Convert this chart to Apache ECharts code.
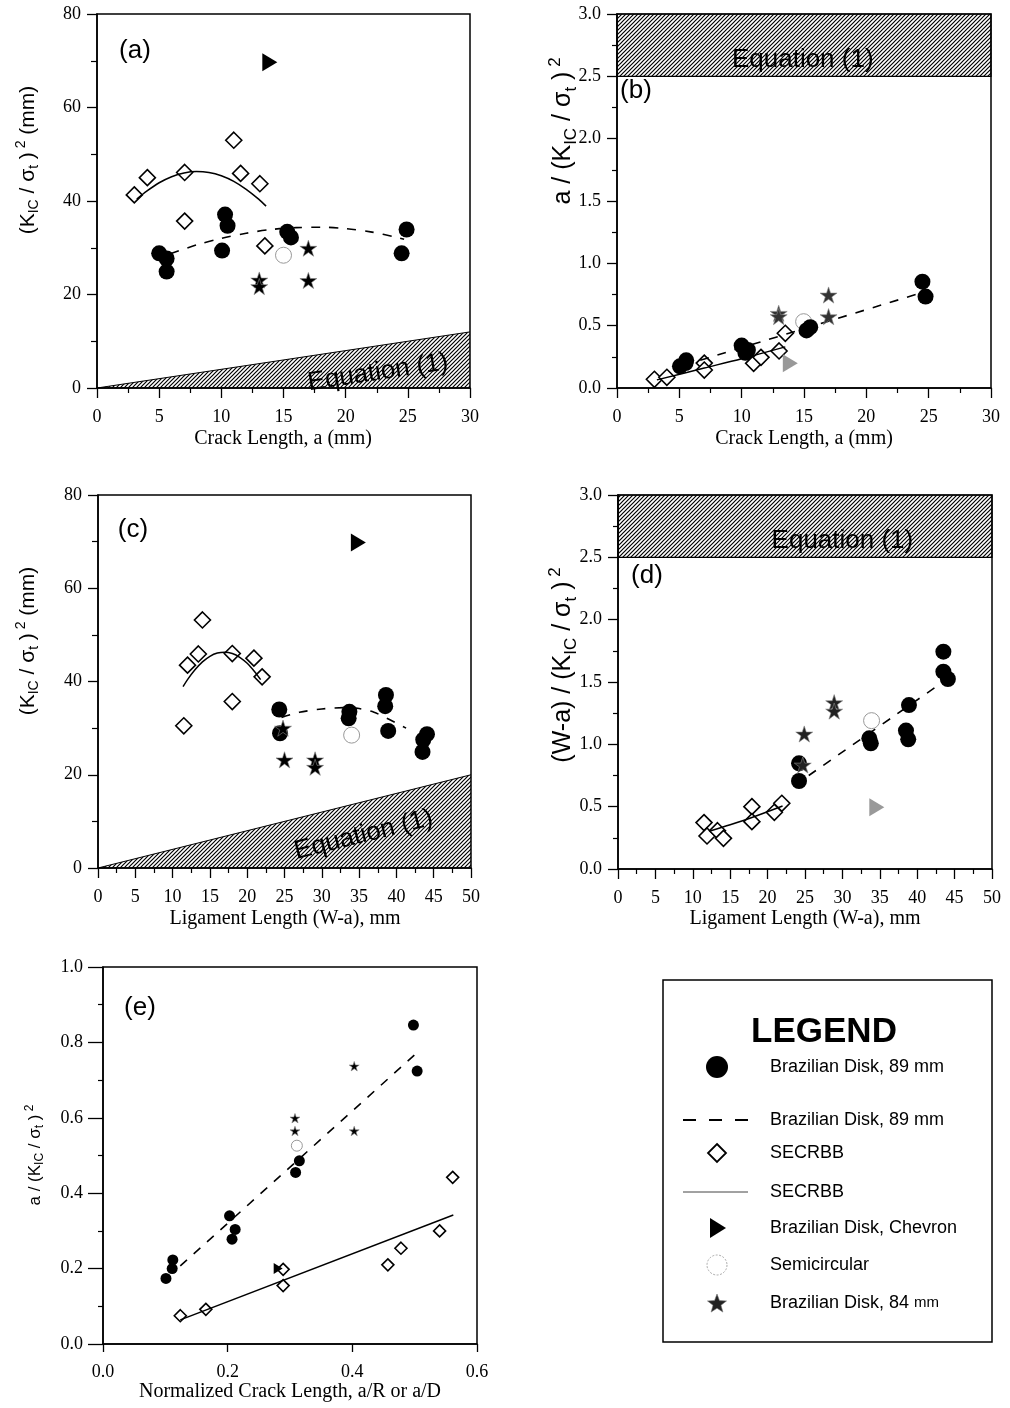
<!DOCTYPE html>
<html>
<head>
<meta charset="utf-8">
<script src="https://cdn.jsdelivr.net/npm/echarts@6/dist/echarts.min.js"></script>
<style>
  html, body { margin: 0; padding: 0; background: #fff; }
  #chart { width: 1010px; height: 1408px; }
</style>
</head>
<body>
<div id="chart"></div>
<script>
// ---------- Panel (a): (K_IC / sigma_t)^2 vs crack length a (mm) ----------
const aDisk89   = [[5.0,28.8],[5.6,27.7],[5.6,24.9],[10.3,37.1],[10.5,34.7],[10.06,29.4],[15.3,33.4],[15.6,32.2],[24.9,33.9],[24.5,28.8]];
const aSecrbb   = [[3.0,41.3],[4.05,45.0],[7.05,46.1],[7.05,35.7],[11.0,53.0],[11.55,45.9],[13.1,43.7],[13.5,30.4]];
const aChevron  = [[13.9,69.7]];
const aSemi     = [[15.0,28.4]];
const aDisk84   = [[13.05,23.1],[13.05,21.7],[17.0,29.9],[17.0,23.0]];
const aDiskFit  = [[5.9,28.7],[8,30.6],[10,32.0],[12,33.1],[14,33.9],[16,34.3],[18,34.4],[20,34.1],[22,33.4],[24,32.3],[24.7,31.8]];
const aSecFit   = [[3.2,40.4],[4,42.1],[5,43.9],[6,45.2],[7,46.0],[8,46.3],[9,46.1],[10,45.4],[11,44.2],[12,42.5],[13,40.4],[13.6,38.9]];
const aEquation = [[0,0],[30,12]];

// ---------- Panel (b): a / (K_IC / sigma_t)^2 vs crack length ----------
const bDisk89   = [[5.05,0.174],[5.5,0.200],[5.55,0.222],[10.0,0.340],[10.3,0.282],[10.5,0.305],[15.2,0.462],[15.5,0.488],[24.5,0.853],[24.75,0.733]];
const bSecrbb   = [[3.0,0.070],[4.0,0.086],[7.0,0.200],[7.0,0.144],[10.96,0.198],[11.55,0.246],[13.0,0.297],[13.5,0.439]];
const bChevron  = [[13.9,0.198]];
const bSemi     = [[14.97,0.532]];
const bDisk84   = [[12.97,0.599],[12.97,0.573],[16.97,0.746],[16.97,0.572]];
const bDiskFit  = [[5.3,0.18],[24.3,0.76]];
const bSecFit   = [[3.2,0.065],[7,0.16],[10,0.235],[13.5,0.33]];
const bEquation = [2.5, 3.0];

// ---------- Panel (c): (K_IC / sigma_t)^2 vs ligament length (W-a) ----------
const cDisk89   = [[24.3,34.0],[24.4,28.9],[33.7,33.5],[33.6,32.1],[38.6,37.1],[38.5,34.7],[38.9,29.4],[44.1,28.7],[43.6,27.5],[43.5,24.9]];
const cSecrbb   = [[11.5,30.5],[12.0,43.5],[13.45,45.9],[14.0,53.2],[18.0,46.0],[18.0,35.7],[20.9,45.0],[22.0,41.0]];
const cChevron  = [[34.9,69.8]];
const cSemi     = [[34.0,28.5]];
const cDisk84   = [[24.8,30.0],[25.0,23.2],[29.1,23.2],[29.1,21.6]];
const cDiskFit  = [[24.6,32.3],[27,33.4],[30,34.1],[33,34.4],[35,34.2],[37,33.4],[39,31.9],[41.3,30.0]];
const cSecFit   = [[11.4,38.9],[12,40.4],[13,42.5],[14,44.2],[15,45.4],[16,46.1],[17,46.3],[18,46.0],[19,45.2],[20,43.9],[21,42.1],[21.8,40.4]];
const cEquation = [[0,0],[50,20]];

// ---------- Panel (d): (W-a) / (K_IC / sigma_t)^2 vs ligament length ----------
const dDisk89   = [[24.2,0.848],[24.2,0.706],[33.6,1.048],[33.8,1.008],[38.9,1.315],[38.5,1.110],[38.8,1.040],[43.5,1.743],[43.5,1.583],[44.1,1.524]];
const dSecrbb   = [[11.5,0.372],[11.9,0.265],[13.3,0.307],[14.1,0.246],[17.9,0.500],[17.9,0.380],[20.9,0.455],[21.9,0.527]];
const dChevron  = [[34.6,0.495]];
const dSemi     = [[33.9,1.19]];
const dDisk84   = [[24.9,1.083],[28.9,1.334],[28.9,1.267],[24.7,0.834]];
const dDiskFit  = [[25.5,0.75],[43.2,1.49]];
const dSecFit   = [[12.3,0.305],[15,0.355],[18,0.415],[22,0.505]];
const dEquation = [2.5, 3.0];

// ---------- Panel (e): a / (K_IC / sigma_t)^2 vs normalized crack length ----------
const eDisk89   = [[0.101,0.174],[0.111,0.200],[0.112,0.223],[0.203,0.340],[0.212,0.304],[0.207,0.278],[0.309,0.455],[0.315,0.486],[0.498,0.846],[0.504,0.724]];
const eSecrbb   = [[0.124,0.075],[0.165,0.092],[0.289,0.198],[0.289,0.155],[0.457,0.210],[0.478,0.254],[0.540,0.300],[0.561,0.442]];
const eChevron  = [[0.281,0.200]];
const eSemi     = [[0.311,0.526]];
const eDisk84   = [[0.308,0.599],[0.308,0.565],[0.403,0.737],[0.403,0.565]];
const eDiskFit  = [[0.124,0.207],[0.504,0.773]];
const eSecFit   = [[0.124,0.064],[0.562,0.342]];

// Axis ranges: [min, max, interval, decimals]
const xCrack    = [0, 30, 5, 0];
const xLigament = [0, 50, 5, 0];
const xNorm     = [0, 0.6, 0.2, 1];
const yMm       = [0, 80, 20, 0];
const yRatio    = [0, 3, 0.5, 1];
const yNorm     = [0, 1, 0.2, 1];

// Texts
const panelTags = ['(a)', '(b)', '(c)', '(d)', '(e)'];
const xTitles = ['Crack Length, a (mm)', 'Crack Length, a (mm)', 'Ligament Length (W-a), mm', 'Ligament Length (W-a), mm', 'Normalized Crack Length, a/R or a/D'];
const equationText = 'Equation (1)';
const legendTitle = 'LEGEND';
const legendLabels = ['Brazilian Disk, 89 mm', 'Brazilian Disk, 89 mm', 'SECRBB', 'SECRBB', 'Brazilian Disk, Chevron', 'Semicircular', 'Brazilian Disk, 84'];

const SERIF = '"Liberation Serif", "Times New Roman", serif';
const SANS = '"Liberation Sans", Arial, sans-serif';

// Diagonal hatching used for the Equation (1) regions
function hatchPattern() {
  const c = document.createElement('canvas');
  c.width = 4; c.height = 4;
  const g = c.getContext('2d');
  g.strokeStyle = '#000';
  g.lineWidth = 1.2;
  g.beginPath();
  g.moveTo(0, 4); g.lineTo(4, 0);
  g.moveTo(-1, 1); g.lineTo(1, -1);
  g.moveTo(3, 5); g.lineTo(5, 3);
  g.stroke();
  return { image: c, repeat: 'repeat' };
}
const HATCH = hatchPattern();

const STAR = 'path://M50 0 L61.2 34.5 L97.6 34.5 L68.2 55.9 L79.4 90.5 L50 69.1 L20.6 90.5 L31.8 55.9 L2.4 34.5 L38.8 34.5 Z';
const TRI_RIGHT = 'path://M0 0 L10 6 L0 12 Z';

const grids = [
  { left: 97,  top: 14,  width: 373, height: 374 },
  { left: 617, top: 14,  width: 374, height: 374 },
  { left: 98,  top: 495, width: 373, height: 373 },
  { left: 618, top: 495, width: 374, height: 374 },
  { left: 103, top: 967, width: 374, height: 377 }
].map(g => Object.assign({ show: true, borderColor: '#000', borderWidth: 1.5, backgroundColor: 'transparent' }, g));

function xAxis(gi, r, o) {
  return {
    type: 'value', gridIndex: gi, min: r[0], max: r[1], interval: r[2],
    axisLine: { show: true, onZero: false, lineStyle: { color: '#000', width: 1.5 } },
    axisTick: { show: true, inside: false, length: o.tick, lineStyle: { color: '#000', width: 1.3 } },
    minorTick: { show: o.minor, splitNumber: 2, length: 5, lineStyle: { color: '#000', width: 1.2 } },
    splitLine: { show: false }, minorSplitLine: { show: false },
    axisLabel: { color: '#000', fontFamily: SERIF, fontSize: 18, margin: o.margin,
      formatter: v => v.toFixed(r[3]) }
  };
}
function yAxis(gi, r, o) {
  return {
    type: 'value', gridIndex: gi, min: r[0], max: r[1], interval: r[2],
    axisLine: { show: true, onZero: false, lineStyle: { color: '#000', width: 1.5 } },
    axisTick: { show: true, inside: false, length: o.tick, lineStyle: { color: '#000', width: 1.3 } },
    minorTick: { show: true, splitNumber: 2, length: o.minorLen, lineStyle: { color: '#000', width: 1.2 } },
    splitLine: { show: false }, minorSplitLine: { show: false },
    axisLabel: { color: '#000', fontFamily: SERIF, fontSize: 18, margin: o.margin,
      formatter: v => v.toFixed(r[3]) }
  };
}

const xAxes = [
  xAxis(0, xCrack, { tick: 10, minor: true, margin: 20 }),
  xAxis(1, xCrack, { tick: 10, minor: true, margin: 20 }),
  xAxis(2, xLigament, { tick: 10, minor: true, margin: 20 }),
  xAxis(3, xLigament, { tick: 10, minor: true, margin: 20 }),
  xAxis(4, xNorm, { tick: 8, minor: false, margin: 19 })
];
const yAxes = [
  yAxis(0, yMm, { tick: 10, minorLen: 6, margin: 16 }),
  yAxis(1, yRatio, { tick: 10, minorLen: 5, margin: 16 }),
  yAxis(2, yMm, { tick: 10, minorLen: 6, margin: 16 }),
  yAxis(3, yRatio, { tick: 10, minorLen: 5, margin: 16 }),
  yAxis(4, yNorm, { tick: 15, minorLen: 5, margin: 20 })
];

// All marks of one panel
function panel(gi, d, big) {
  const s = big
    ? { circle: 16, diamond: 16, star: 17, tri: [15, 18], semi: 16 }
    : { circle: 11, diamond: 12, star: 10, tri: [9, 11], semi: 11 };
  const base = { xAxisIndex: gi, yAxisIndex: gi, silent: true, emphasis: { disabled: true } };
  const out = [];
  if (d.eqWedge) {
    out.push(Object.assign({}, base, {
      type: 'line', data: d.eqWedge, symbol: 'none', z: 1,
      lineStyle: { color: '#000', width: 1 },
      areaStyle: { color: HATCH, opacity: 1 }
    }));
  }
  if (d.eqBand) {
    out.push(Object.assign({}, base, {
      type: 'line', data: [], z: 1,
      markArea: {
        silent: true,
        itemStyle: { color: HATCH, opacity: 1, borderColor: '#000', borderWidth: 1.2 },
        data: [[{ coord: [d.xMin, d.eqBand[0]] }, { coord: [d.xMax, d.eqBand[1]] }]]
      }
    }));
  }
  if (d.eqLabel) {
    out.push(Object.assign({}, base, {
      type: 'scatter', data: [d.eqLabel.at], symbolSize: 0, z: 2,
      itemStyle: { opacity: 1 },
      label: { show: true, position: 'inside', formatter: equationText, rotate: d.eqLabel.rot,
        fontFamily: SANS, fontSize: 26, color: '#000', opacity: 1 }
    }));
  }
  out.push(Object.assign({}, base, {
    type: 'scatter', data: d.semi, symbol: 'circle', symbolSize: s.semi, z: 3,
    itemStyle: { color: '#fff', borderColor: '#999', borderWidth: 1, opacity: 1 }
  }));
  out.push(Object.assign({}, base, {
    type: 'scatter', data: d.disk, symbol: 'circle', symbolSize: s.circle, z: 3,
    itemStyle: { color: '#000', opacity: 1 }
  }));
  out.push(Object.assign({}, base, {
    type: 'scatter', data: d.sec, symbol: 'diamond', symbolSize: s.diamond, z: 3,
    itemStyle: { color: '#fff', borderColor: '#000', borderWidth: 1.6, opacity: 1 }
  }));
  out.push(Object.assign({}, base, {
    type: 'scatter', data: d.chev, symbol: TRI_RIGHT, symbolSize: s.tri, symbolKeepAspect: false, z: 3,
    itemStyle: { color: d.chevColor, opacity: 1 }
  }));
  out.push(Object.assign({}, base, {
    type: 'line', data: d.secFit, symbol: 'none', smooth: d.smooth, z: 4,
    lineStyle: { color: '#000', width: 1.5 }
  }));
  out.push(Object.assign({}, base, {
    type: 'line', data: d.diskFit, symbol: 'none', smooth: d.smooth, z: 4,
    lineStyle: { color: '#000', width: 1.6, type: [9, 9] }
  }));
  out.push(Object.assign({}, base, {
    type: 'scatter', data: d.star, symbol: STAR, symbolSize: s.star, symbolKeepAspect: true, z: 5,
    itemStyle: { color: d.starColor, borderColor: '#888', borderWidth: 0.6, opacity: 1 }
  }));
  return out;
}

const series = [].concat(
  panel(0, { disk: aDisk89, sec: aSecrbb, chev: aChevron, semi: aSemi, star: aDisk84, diskFit: aDiskFit, secFit: aSecFit,
    smooth: 0.3, eqWedge: aEquation, eqLabel: { at: [22.6, 3.3], rot: 8.5 }, chevColor: '#000', starColor: '#000' }, true),
  panel(1, { disk: bDisk89, sec: bSecrbb, chev: bChevron, semi: bSemi, star: bDisk84, diskFit: bDiskFit, secFit: bSecFit,
    smooth: 0.3, eqBand: bEquation, xMin: xCrack[0], xMax: xCrack[1], eqLabel: { at: [14.9, 2.63], rot: 0 }, chevColor: '#999', starColor: '#333' }, true),
  panel(2, { disk: cDisk89, sec: cSecrbb, chev: cChevron, semi: cSemi, star: cDisk84, diskFit: cDiskFit, secFit: cSecFit,
    smooth: 0.3, eqWedge: cEquation, eqLabel: { at: [35.6, 7.1], rot: 14 }, chevColor: '#000', starColor: '#000' }, true),
  panel(3, { disk: dDisk89, sec: dSecrbb, chev: dChevron, semi: dSemi, star: dDisk84, diskFit: dDiskFit, secFit: dSecFit,
    smooth: 0.3, eqBand: dEquation, xMin: xLigament[0], xMax: xLigament[1], eqLabel: { at: [30.0, 2.63], rot: 0 }, chevColor: '#999', starColor: '#222' }, true),
  panel(4, { disk: eDisk89, sec: eSecrbb, chev: eChevron, semi: eSemi, star: eDisk84, diskFit: eDiskFit, secFit: eSecFit,
    smooth: false, chevColor: '#000', starColor: '#000' }, false)
);

// ---------- Titles, panel tags and legend ----------
function richStyles(size) {
  const sub = Math.round(size * 0.68);
  return {
    m: { fontFamily: SANS, fontSize: size, lineHeight: Math.round(size * 1.3), fill: '#000' },
    s: { fontFamily: SANS, fontSize: sub, verticalAlign: 'bottom', fill: '#000' },
    p: { fontFamily: SANS, fontSize: sub, verticalAlign: 'top', fill: '#000' }
  };
}
const yTitleMm    = '{m|(K}{s|IC}{m| / σ}{s|t}{m| )}{p| 2}{m| (mm)}';
const yTitleA     = '{m|a / (K}{s|IC}{m| / σ}{s|t}{m| )}{p| 2}';
const yTitleLig   = '{m|(W-a) / (K}{s|IC}{m| / σ}{s|t}{m| )}{p| 2}';

function yTitle(text, x, y, size) {
  return { type: 'text', x: x, y: y, rotation: Math.PI / 2, silent: true,
    style: { text: text, rich: richStyles(size), align: 'center', verticalAlign: 'middle' } };
}
function plainText(text, x, y, font, size, extra) {
  return { type: 'text', x: x, y: y, silent: true,
    style: Object.assign({ text: text, fontFamily: font, fontSize: size, fill: '#000', align: 'center', verticalAlign: 'middle' }, extra || {}) };
}

const graphics = [
  yTitle(yTitleMm, 28, 160, 21),
  yTitle(yTitleA, 563, 131, 25),
  yTitle(yTitleMm, 28, 641, 21),
  yTitle(yTitleLig, 563, 665, 25),
  yTitle(yTitleA, 35, 1155, 17),
  plainText(xTitles[0], 283, 439, SERIF, 20),
  plainText(xTitles[1], 804, 439, SERIF, 20),
  plainText(xTitles[2], 285, 919, SERIF, 20),
  plainText(xTitles[3], 805, 919, SERIF, 20),
  plainText(xTitles[4], 290, 1392, SERIF, 20),
  plainText(panelTags[0], 135, 51, SANS, 26),
  plainText(panelTags[1], 636, 91, SANS, 26),
  plainText(panelTags[2], 133, 530, SANS, 26),
  plainText(panelTags[3], 647, 576, SANS, 26),
  plainText(panelTags[4], 140, 1008, SANS, 26)
];

// Legend box
const LG = { left: 663, top: 980, right: 992, bottom: 1342, iconX: 717, textX: 770 };
const legendRowY = [1067, 1120, 1153, 1192, 1228, 1265, 1303];
graphics.push({ type: 'rect', silent: true, shape: { x: LG.left, y: LG.top, width: LG.right - LG.left, height: LG.bottom - LG.top },
  style: { fill: '#fff', stroke: '#000', lineWidth: 1.5 }, z: 0 });
graphics.push(plainText(legendTitle, 824, 1032, SANS, 35, { fontWeight: 'bold' }));

function starPoints(cx, cy, R, r) {
  const pts = [];
  for (let i = 0; i < 10; i++) {
    const ang = -Math.PI / 2 + i * Math.PI / 5;
    const rr = i % 2 ? r : R;
    pts.push([cx + rr * Math.cos(ang), cy + rr * Math.sin(ang)]);
  }
  return pts;
}
const ix = LG.iconX;
legendRowY.forEach((y, i) => {
  let icon;
  if (i === 0) icon = { type: 'circle', shape: { cx: ix, cy: y, r: 11 }, style: { fill: '#000' } };
  if (i === 1) icon = { type: 'line', shape: { x1: ix - 34, y1: y, x2: ix + 31, y2: y }, style: { stroke: '#000', lineWidth: 2, lineDash: [13, 13] } };
  if (i === 2) icon = { type: 'polygon', shape: { points: [[ix, y - 9], [ix + 9, y], [ix, y + 9], [ix - 9, y]] }, style: { fill: '#fff', stroke: '#000', lineWidth: 1.8 } };
  if (i === 3) icon = { type: 'line', shape: { x1: ix - 34, y1: y, x2: ix + 31, y2: y }, style: { stroke: '#444', lineWidth: 1 } };
  if (i === 4) icon = { type: 'polygon', shape: { points: [[ix - 7, y - 10], [ix + 9, y], [ix - 7, y + 10]] }, style: { fill: '#000' } };
  if (i === 5) icon = { type: 'circle', shape: { cx: ix, cy: y, r: 10 }, style: { fill: '#fff', stroke: '#aaa', lineWidth: 1, lineDash: [2, 1.5] } };
  if (i === 6) icon = { type: 'polygon', shape: { points: starPoints(ix, y + 1, 10, 4.2) }, style: { fill: '#222', stroke: '#777', lineWidth: 0.6 } };
  icon.silent = true;
  icon.z = 2;
  graphics.push(icon);
  const label = i === 6
    ? { type: 'text', x: LG.textX, y: y, silent: true, z: 2,
        style: { text: '{n|' + legendLabels[i] + ' }{u|mm}', align: 'left', verticalAlign: 'middle',
          rich: { n: { fontFamily: SANS, fontSize: 18, fill: '#000' }, u: { fontFamily: SANS, fontSize: 15, fill: '#000' } } } }
    : { type: 'text', x: LG.textX, y: y, silent: true, z: 2,
        style: { text: legendLabels[i], fontFamily: SANS, fontSize: 18, fill: '#000', align: 'left', verticalAlign: 'middle' } };
  graphics.push(label);
});

const chart = echarts.init(document.getElementById('chart'), null, { renderer: 'canvas' });
chart.setOption({
  animation: false,
  backgroundColor: '#fff',
  grid: grids,
  xAxis: xAxes,
  yAxis: yAxes,
  series: series,
  graphic: { elements: graphics }
});
</script>
</body>
</html>
